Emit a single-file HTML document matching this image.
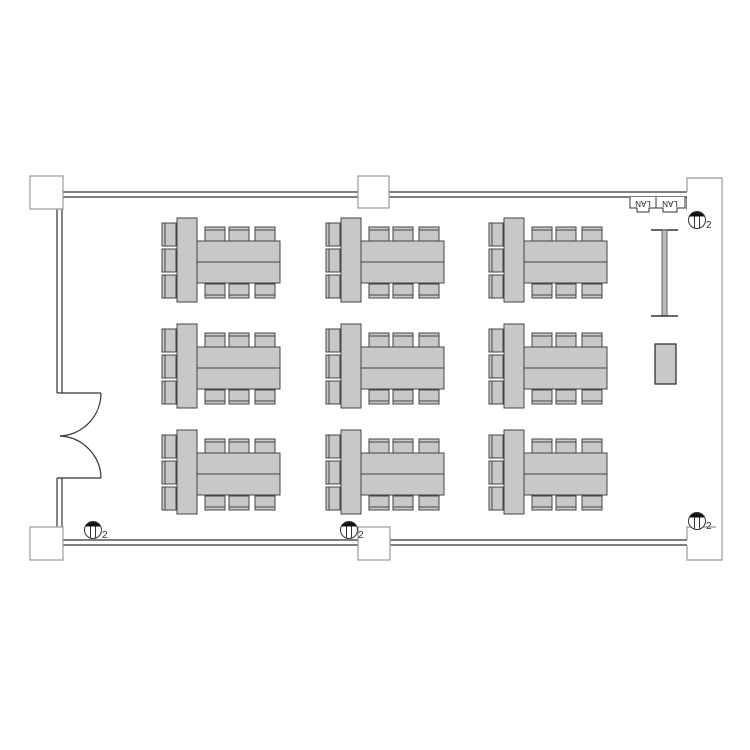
<!DOCTYPE html>
<html><head><meta charset="utf-8"><style>body{margin:0;background:#fff}svg{display:block}</style></head>
<body>
<svg width="750" height="750" viewBox="0 0 750 750" xmlns="http://www.w3.org/2000/svg">
<defs>
<g id="chT"><rect x="0" y="0" width="20" height="14" fill="#c8c8c8" stroke="#444" stroke-width="1"/><line x1="0" y1="3" x2="20" y2="3" stroke="#444"/></g>
<g id="chB"><rect x="0" y="0" width="20" height="14" fill="#c8c8c8" stroke="#444" stroke-width="1"/><line x1="0" y1="11" x2="20" y2="11" stroke="#444"/></g>
<g id="chL"><rect x="0" y="0" width="14" height="23" fill="#c8c8c8" stroke="#444" stroke-width="1"/><line x1="3" y1="0" x2="3" y2="23" stroke="#444"/></g>
<g id="grp">
<use href="#chL" x="162" y="223"/><use href="#chL" x="162" y="249"/><use href="#chL" x="162" y="275"/>
<use href="#chT" x="205" y="227"/><use href="#chT" x="229" y="227"/><use href="#chT" x="255" y="227"/>
<use href="#chB" x="205" y="284"/><use href="#chB" x="229" y="284"/><use href="#chB" x="255" y="284"/>
<rect x="197" y="241" width="83" height="42" fill="#c8c8c8" stroke="#444"/>
<line x1="197" y1="262" x2="280" y2="262" stroke="#444"/>
<rect x="177" y="218" width="20" height="84" fill="#c8c8c8" stroke="#444"/>
</g>
<g id="out"><circle cx="0" cy="0" r="8.5" fill="#fff" stroke="#333"/><path d="M-7.5,-3.5 A8.5,8.5 0 0 1 7.5,-3.5 Z" fill="#111"/><line x1="-2.5" y1="-3.5" x2="-2.5" y2="8.5" stroke="#333"/><line x1="2.5" y1="-3.5" x2="2.5" y2="8.5" stroke="#333"/><text x="9" y="8" font-family="Liberation Sans, sans-serif" font-size="10" fill="#333">2</text></g>
</defs>
<g fill="none" stroke="#333" stroke-width="1.2">
<line x1="63" y1="192" x2="358" y2="192"/><line x1="63" y1="197" x2="358" y2="197"/>
<line x1="389" y1="192" x2="687" y2="192"/><line x1="389" y1="197" x2="687" y2="197"/>
<line x1="63" y1="540" x2="358" y2="540"/><line x1="63" y1="545" x2="358" y2="545"/>
<line x1="390" y1="540" x2="687" y2="540"/><line x1="390" y1="545" x2="687" y2="545"/>
<line x1="57" y1="209" x2="57" y2="393"/><line x1="62" y1="209" x2="62" y2="393"/>
<line x1="57" y1="478" x2="57" y2="527"/><line x1="62" y1="478" x2="62" y2="527"/>
<line x1="57" y1="393" x2="101" y2="393"/><line x1="57" y1="478" x2="101" y2="478"/>
<path d="M101,393 A43,43 0 0 1 60,436"/><path d="M101,478 A43,43 0 0 0 60,436"/>
<path d="M687,197 L687,209 L716,209 L716,527"/>
</g>
<g fill="#fff" stroke="#999" stroke-width="1.2">
<rect x="30" y="176" width="33" height="33"/>
<rect x="358" y="176" width="31" height="32"/>
<rect x="30" y="527" width="33" height="33"/>
<rect x="358" y="527" width="32" height="33"/>
<path d="M687,192 L687,178 L722,178 L722,560 L687,560 L687,545 M687,540 L687,527 L716,527"/>
</g>
<use href="#grp"/><use href="#grp" x="164"/><use href="#grp" x="327"/>
<use href="#grp" y="106"/><use href="#grp" x="164" y="106"/><use href="#grp" x="327" y="106"/>
<use href="#grp" y="212"/><use href="#grp" x="164" y="212"/><use href="#grp" x="327" y="212"/>
<line x1="651" y1="230" x2="678" y2="230" stroke="#333" stroke-width="1.5"/>
<rect x="662" y="230" width="5" height="86" fill="#bbb" stroke="#666"/>
<line x1="651" y1="316" x2="678" y2="316" stroke="#333" stroke-width="1.5"/>
<rect x="655" y="344" width="21" height="40" fill="#c8c8c8" stroke="#333" stroke-width="1.3"/>
<g fill="#fff" stroke="#333">
<path d="M630,197 L630,208 L637,208 L637,212 L649,212 L649,208 L656,208 L656,197"/>
<path d="M656,197 L656,208 L663,208 L663,212 L677,212 L677,208 L685,208 L685,197"/>
</g>
<text transform="translate(643,203) rotate(180)" text-anchor="middle" dominant-baseline="middle" font-family="Liberation Sans, sans-serif" font-size="8" fill="#222">LAN</text>
<text transform="translate(670,203) rotate(180)" text-anchor="middle" dominant-baseline="middle" font-family="Liberation Sans, sans-serif" font-size="8" fill="#222">LAN</text>
<use href="#out" x="697" y="220"/>
<use href="#out" x="93" y="530"/>
<use href="#out" x="349" y="530"/>
<use href="#out" x="697" y="521"/>
</svg>
</body></html>
